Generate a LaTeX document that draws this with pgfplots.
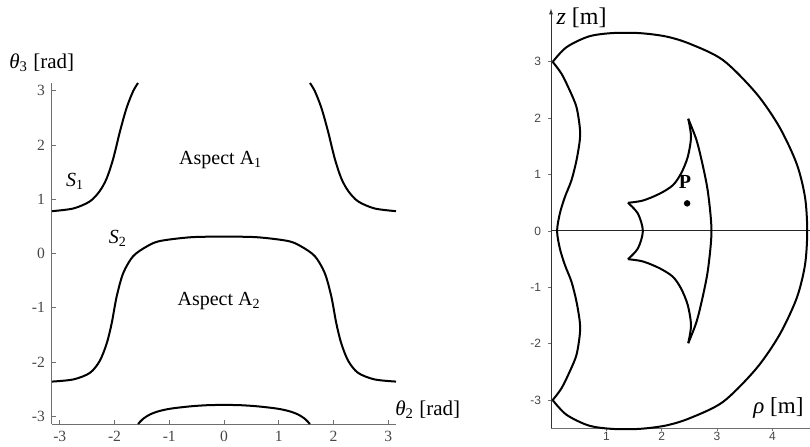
\documentclass[border=0pt]{standalone}
\usepackage{fontspec}
\setmainfont{Liberation Serif}
\setsansfont{Liberation Sans}
\usepackage{pgfplots}
\pgfplotsset{compat=1.18}
\usetikzlibrary{arrows.meta}

\definecolor{axisgray}{RGB}{110,110,110}
\definecolor{ticktext}{RGB}{70,70,70}

\begin{document}
\begin{tikzpicture}
\useasboundingbox (0,0) rectangle (405pt,223pt);

% ---- left: joint space (theta2, theta3)
\begin{axis}[
  at={(26pt,11pt)}, anchor=south west,
  scale only axis, width=172pt, height=170.5pt,
  xmin=-3.1416, xmax=3.1416, ymin=-3.1416, ymax=3.1416,
  axis lines=left, axis line style={-, axisgray, line width=0.5pt},
  xtick={-3,...,3}, ytick={-3,...,3},
  tick align=inside, major tick length=2pt,
  tick style={axisgray, line width=0.4pt},
  /pgf/number format/assume math mode=true,
  tick label style={font=\fontsize{7.8}{9}\selectfont, text=ticktext},
  clip=false,
]
% S1, left branch
\addplot[black, line width=1pt, smooth] coordinates {
(-3.1416,0.78) (-2.75,0.83) (-2.45,0.96) (-2.27,1.15) (-2.14,1.39)
(-2.02,1.76) (-1.90,2.25) (-1.78,2.68) (-1.66,2.99) (-1.57,3.1416)
};
% S1, right branch
\addplot[black, line width=1pt, smooth] coordinates {
(1.57,3.1416) (1.66,2.99) (1.78,2.68) (1.90,2.25) (2.02,1.76)
(2.14,1.39) (2.27,1.15) (2.45,0.96) (2.75,0.83) (3.1416,0.78)
};
% S2
\addplot[black, line width=1pt, smooth] coordinates {
(-3.1416,-2.36) (-2.75,-2.32) (-2.45,-2.20) (-2.27,-1.98) (-2.14,-1.65)
(-2.05,-1.28) (-1.96,-0.79) (-1.84,-0.36) (-1.66,-0.05) (-1.41,0.13)
(-1.17,0.23) (-0.60,0.30) (0,0.31) (0.60,0.30) (1.17,0.23) (1.41,0.13)
(1.66,-0.05) (1.84,-0.36) (1.96,-0.79) (2.05,-1.28) (2.14,-1.65)
(2.27,-1.98) (2.45,-2.20) (2.75,-2.32) (3.1416,-2.36)
};
% S1 wrapped, bottom
\addplot[black, line width=1pt, smooth] coordinates {
(-1.57,-3.1416) (-1.47,-3.04) (-1.34,-2.96) (-1.17,-2.90) (-0.95,-2.855)
(-0.60,-2.815) (-0.30,-2.795) (0,-2.79) (0.30,-2.795) (0.60,-2.815)
(0.95,-2.855) (1.17,-2.90) (1.34,-2.96) (1.47,-3.04) (1.57,-3.1416)
};
\node[font=\fontsize{10}{12}\selectfont] at (axis cs:-0.06,1.73) {Aspect A\textsubscript{1}};
\node[font=\fontsize{10}{12}\selectfont] at (axis cs:-0.09,-0.88) {Aspect A\textsubscript{2}};
\node[font=\fontsize{10}{12}\selectfont] at (axis cs:-2.72,1.33) {\textit{S}\textsubscript{1}};
\node[font=\fontsize{10}{12}\selectfont] at (axis cs:-1.94,0.28) {\textit{S}\textsubscript{2}};
\node[anchor=west, font=\fontsize{10.5}{12}\selectfont, inner sep=0pt]
  at (rel axis cs:-0.125,1.06) {\textit{θ}\textsubscript{3} [rad]};
\node[anchor=west, font=\fontsize{10.5}{12}\selectfont, inner sep=0pt]
  at (rel axis cs:0.997,0.042) {\textit{θ}\textsubscript{2} [rad]};
\end{axis}

% ---- right: workspace (rho, z)
\begin{axis}[
  at={(275.5pt,8.85pt)}, anchor=south west,
  scale only axis, width=129.5pt, height=210pt,
  xmin=0, xmax=4.68, ymin=-3.5, ymax=3.95,
  axis x line=bottom, axis y line=left,
  x axis line style={-, axisgray, line width=0.5pt},
  y axis line style={-{Latex[length=3pt,width=2pt]}, black!80, line width=0.5pt},
  xtick={1,2,3,4}, ytick={-3,...,3},
  tick align=outside, major tick length=1.5pt,
  tick style={axisgray, line width=0.4pt},
  /pgf/number format/assume math mode=true,
  tick label style={font=\sffamily\fontsize{6}{7}\selectfont, text=ticktext},
  xticklabel style={inner sep=0.8pt, yshift=0.5pt},
  clip=false,
]
\addplot[black!85, line width=0.5pt] coordinates {(0,0) (4.68,0)};
% outer boundary, right arc
\addplot[black, line width=1pt, smooth] coordinates {
(0.03,3.0) (0.28,3.26) (0.68,3.45) (1.10,3.51) (1.60,3.51) (2.08,3.45)
(2.51,3.32) (3.11,3.03) (3.71,2.44) (4.13,1.84) (4.44,1.19) (4.59,0.60)
(4.63,0) (4.59,-0.60) (4.44,-1.19) (4.13,-1.84) (3.71,-2.44) (3.11,-3.03)
(2.51,-3.32) (2.08,-3.45) (1.60,-3.51) (1.10,-3.51) (0.68,-3.45)
(0.28,-3.26) (0.03,-3.0)
};
% outer boundary, wavy left side
\addplot[black, line width=1pt, smooth] coordinates {
(0.03,-3.0) (0.19,-2.79) (0.34,-2.49) (0.46,-2.20) (0.52,-1.84)
(0.52,-1.61) (0.46,-1.25) (0.37,-0.90) (0.25,-0.60) (0.16,-0.31)
(0.11,0) (0.16,0.31) (0.25,0.60) (0.37,0.90) (0.46,1.25) (0.52,1.61)
(0.52,1.84) (0.46,2.20) (0.34,2.49) (0.19,2.79) (0.03,3.0)
};
% inner boundary: right arc
\addplot[black, line width=1pt, smooth] coordinates {
(2.48,1.99) (2.63,1.61) (2.75,1.13) (2.84,0.66) (2.90,0)
(2.84,-0.66) (2.75,-1.13) (2.63,-1.61) (2.48,-1.99)
};
% inner boundary: lower concave arc
\addplot[black, line width=1pt, smooth] coordinates {
(2.48,-1.99) (2.53,-1.67) (2.47,-1.31) (2.35,-1.02) (2.20,-0.81)
(1.96,-0.66) (1.66,-0.54) (1.39,-0.50)
};
% inner boundary: small left arc
\addplot[black, line width=1pt, smooth] coordinates {
(1.39,-0.50) (1.57,-0.31) (1.66,0) (1.57,0.31) (1.39,0.50)
};
% inner boundary: upper concave arc
\addplot[black, line width=1pt, smooth] coordinates {
(1.39,0.50) (1.66,0.54) (1.96,0.66) (2.20,0.81) (2.35,1.02)
(2.47,1.31) (2.53,1.67) (2.48,1.99)
};
% point P
\addplot[only marks, mark=*, mark size=1.4pt, black] coordinates {(2.46,0.49)};
\node[font=\bfseries\fontsize{10}{12}\selectfont] at (axis cs:2.42,0.87) {P};
\node[anchor=west, font=\fontsize{12}{14}\selectfont, inner sep=0pt]
  at (rel axis cs:0.02,0.977) {\textit{z} [m]};
\node[anchor=west, font=\fontsize{11.5}{14}\selectfont, inner sep=0pt]
  at (rel axis cs:0.78,0.048) {\textit{ρ} [m]};
\end{axis}
\end{tikzpicture}
\end{document}
